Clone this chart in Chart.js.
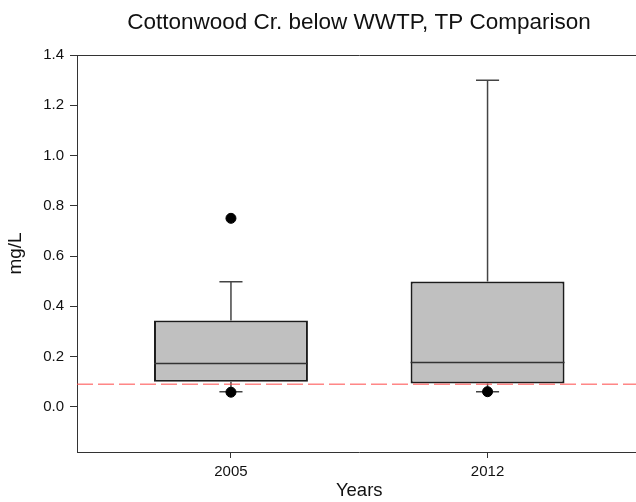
<!DOCTYPE html>
<html>
<head>
<meta charset="utf-8">
<script src="https://cdn.jsdelivr.net/npm/chart.js@4.4.0/dist/chart.umd.min.js"></script>
<style>
  html, body { margin: 0; padding: 0; overflow: hidden; background: #fff; }
  #wrap { width: 718px; height: 502px; }
</style>
</head>
<body>
<div id="wrap"><canvas id="chartCanvas"></canvas></div>
<script>
// box plot summary (mg/L)
const years = ['2005', '2012'];
const xPos = [1, 2];
const lowerWhisker = [0.06, 0.06];
const q1 = [0.10, 0.093];
const median = [0.172, 0.176];
const q3 = [0.343, 0.499];
const upperWhisker = [0.498, 1.30];
const outlierX = [1, 1, 2];
const outlierY = [0.75, 0.058, 0.06];
const criterion = 0.09;   // red dashed reference line
const yTicks = [0, 0.2, 0.4, 0.6, 0.8, 1.0, 1.2, 1.4];

const FONT = "'Liberation Sans', Arial, sans-serif";
const CAP = 0.045;  // half width of whisker caps (x units)
const HALF = 0.3;   // half width of box (x units)

// whiskers + caps as one line dataset with gaps
const whiskerPts = [];
xPos.forEach((x, i) => {
  whiskerPts.push({x, y: q3[i]}, {x, y: upperWhisker[i]}, {x, y: null});
  whiskerPts.push({x: x - CAP, y: upperWhisker[i]}, {x: x + CAP, y: upperWhisker[i]}, {x, y: null});
  whiskerPts.push({x, y: q1[i]}, {x, y: lowerWhisker[i]}, {x, y: null});
  whiskerPts.push({x: x - CAP, y: lowerWhisker[i]}, {x: x + CAP, y: lowerWhisker[i]}, {x, y: null});
});
const medianPts = [];
xPos.forEach((x, i) => {
  medianPts.push({x: x - HALF, y: median[i]}, {x: x + HALF, y: median[i]}, {x, y: null});
});

const ctx = document.getElementById('chartCanvas').getContext('2d');
new Chart(ctx, {
  type: 'bar',
  data: {
    datasets: [
      {
        label: 'box',
        data: xPos.map((x, i) => ({x, y: [q1[i], q3[i]]})),
        backgroundColor: '#c0c0c0',
        borderColor: '#1c1c1c',
        borderWidth: 2,
        borderSkipped: false,
        barPercentage: 0.6,
        categoryPercentage: 1,
        order: 4
      },
      {
        type: 'line',
        label: 'whiskers',
        data: whiskerPts,
        borderColor: '#444',
        borderWidth: 1.5,
        pointRadius: 0,
        spanGaps: false,
        order: 3
      },
      {
        type: 'line',
        label: 'median',
        data: medianPts,
        borderColor: '#333',
        borderWidth: 1.5,
        pointRadius: 0,
        spanGaps: false,
        order: 2
      },
      {
        type: 'line',
        label: 'criterion',
        data: [{x: 0.4, y: criterion}, {x: 2.6, y: criterion}],
        borderColor: '#ff4a4a',
        borderWidth: 1,
        borderDash: [16, 5],
        pointRadius: 0,
        order: 1
      },
      {
        type: 'scatter',
        label: 'outliers',
        data: outlierX.map((x, i) => ({x, y: outlierY[i]})),
        backgroundColor: '#000',
        borderColor: '#000',
        pointRadius: 5,
        order: 0
      }
    ]
  },
  options: {
    responsive: true,
    maintainAspectRatio: false,
    animation: false,
    layout: { padding: 0 },
    plugins: {
      legend: { display: false },
      tooltip: { enabled: false },
      title: {
        display: true,
        text: 'Cottonwood Cr. below WWTP, TP Comparison',
        color: '#111',
        font: { family: FONT, size: 22.5, weight: 'normal' },
        padding: { top: 9, bottom: 19 }
      }
    },
    scales: {
      x: {
        type: 'linear',
        min: 0.4,
        max: 2.6,
        offset: false,
        afterBuildTicks: s => { s.ticks = xPos.map(v => ({value: v})); },
        afterFit: s => { s.height = 50; },
        ticks: {
          callback: v => years[xPos.indexOf(v)],
          color: '#111',
          font: { family: FONT, size: 15 },
          padding: 5,
          maxRotation: 0
        },
        grid: { offset: false, drawOnChartArea: false, drawTicks: true, tickLength: 6, color: '#333' },
        border: { color: '#333', width: 1 },
        title: {
          display: true,
          text: 'Years',
          color: '#111',
          font: { family: FONT, size: 18.5 },
          padding: { top: 0, bottom: 0 }
        }
      },
      xTop: {
        type: 'linear',
        axis: 'x',
        position: 'top',
        min: 0, max: 1,
        ticks: { display: false },
        grid: { display: false, drawTicks: false },
        border: { display: true, color: '#333', width: 1 }
      },
      y: {
        type: 'linear',
        min: -0.18,
        max: 1.4,
        afterBuildTicks: s => { s.ticks = yTicks.map(v => ({value: v})); },
        afterFit: s => { s.width = 77; },
        ticks: {
          callback: v => v.toFixed(1),
          color: '#111',
          font: { family: FONT, size: 15 },
          padding: 6
        },
        grid: { drawOnChartArea: false, drawTicks: true, tickLength: 7, color: '#333' },
        border: { color: '#333', width: 1 },
        title: {
          display: true,
          text: 'mg/L',
          color: '#111',
          font: { family: FONT, size: 19 },
          padding: { top: 4, bottom: 0 }
        }
      },
      // empty axis that only reserves the space past the visible right edge
      yRight: {
        type: 'linear',
        axis: 'y',
        position: 'right',
        display: true,
        min: 0, max: 1,
        afterFit: s => { s.width = 76.5; },
        ticks: { display: false },
        grid: { display: false, drawTicks: false },
        border: { display: false }
      }
    }
  }
});
</script>
</body>
</html>
